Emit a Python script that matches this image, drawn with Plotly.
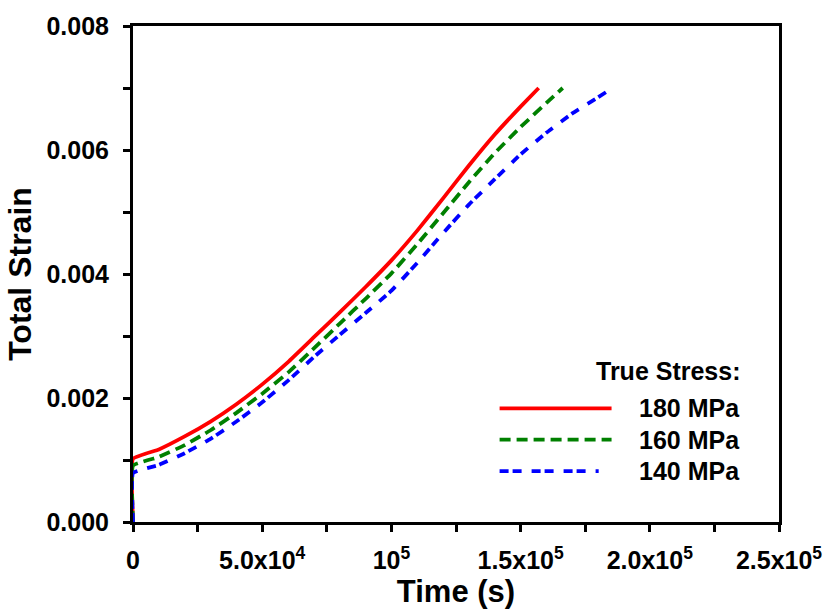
import plotly.graph_objects as go

# Data (time in s, total strain); first point is the loading step at t=0
t_180 = [0, 0, 1e4, 2e4, 3e4, 4e4, 5e4, 6e4, 7e4, 8e4, 9e4, 1.0e5, 1.1e5, 1.2e5, 1.3e5, 1.4e5, 1.5e5, 1.57e5]
e_180 = [0, 0.00102, 0.00117, 0.00138, 0.00162, 0.00190, 0.00222, 0.00258, 0.00298, 0.00338, 0.00379,
         0.00422, 0.00470, 0.00522, 0.00575, 0.00625, 0.00670, 0.00700]

t_160 = [0, 0, 1e4, 2e4, 3e4, 4e4, 5e4, 6e4, 7e4, 8e4, 9e4, 1.0e5, 1.1e5, 1.2e5, 1.3e5, 1.4e5, 1.5e5, 1.6e5, 1.663e5]
e_160 = [0, 0.00091, 0.00105, 0.00124, 0.00148, 0.00176, 0.00207, 0.00241, 0.00280, 0.00320, 0.00360,
         0.00401, 0.00448, 0.00498, 0.00548, 0.00595, 0.00637, 0.00676, 0.00700]

t_140 = [0, 0, 1e4, 2e4, 3e4, 4e4, 5e4, 6e4, 7e4, 8e4, 9e4, 1.0e5, 1.1e5, 1.2e5, 1.3e5, 1.4e5, 1.5e5, 1.6e5,
         1.7e5, 1.8e5, 1.855e5]
e_140 = [0, 0.00079, 0.00092, 0.00111, 0.00134, 0.00162, 0.00193, 0.00228, 0.00266, 0.00302, 0.00337,
         0.00373, 0.00418, 0.00466, 0.00512, 0.00553, 0.00593, 0.00628, 0.00659, 0.00685, 0.00700]

series_names = ["180 MPa", "160 MPa", "140 MPa"]
series_colors = ["#ff0000", "#008000", "#0000ff"]
series_dash = ["solid", "11px,6px", "9px,4px,9px,10px"]

x_tickvals = [0, 5e4, 1e5, 1.5e5, 2e5, 2.5e5]
x_ticktext = ["0", "5.0x10<sup>4</sup>", "10<sup>5</sup>", "1.5x10<sup>5</sup>",
              "2.0x10<sup>5</sup>", "2.5x10<sup>5</sup>"]
x_minor = [2.5e4, 7.5e4, 1.25e5, 1.75e5, 2.25e5]
y_tickvals = [0, 0.002, 0.004, 0.006, 0.008]
y_minor = [0.001, 0.003, 0.005, 0.007]

FONT = "Liberation Sans, Arial, sans-serif"

fig = go.Figure()
for t, e, n, c, d in zip([t_180, t_160, t_140], [e_180, e_160, e_140],
                         series_names, series_colors, series_dash):
    fig.add_trace(go.Scatter(x=t, y=e, mode="lines", name=n,
                             line=dict(color=c, width=3.8, dash=d, shape="spline", smoothing=0.3),
                             showlegend=False))

axis_common = dict(
    showline=True, linecolor="black", linewidth=3, mirror=True,
    ticks="outside", ticklen=7, tickwidth=3, tickcolor="black",
    showgrid=False, zeroline=False, layer="below traces",
    tickfont=dict(family=FONT, size=25, color="black", weight="bold"),
)

fig.update_layout(
    width=834, height=615,
    margin=dict(l=133, r=49, t=16, b=93),
    paper_bgcolor="white", plot_bgcolor="white",
    font=dict(family=FONT, color="black", size=25),
    xaxis=dict(range=[0, 2.5e5], tickmode="array", tickvals=x_tickvals, ticktext=x_ticktext,
               minor=dict(tickmode="array", tickvals=x_minor, ticks="outside", ticklen=7,
                          tickwidth=3, tickcolor="black"),
               title=dict(text="Time (s)", font=dict(family=FONT, size=31, weight="bold"), standoff=5),
               ticklabelstandoff=7,
               **axis_common),
    yaxis=dict(range=[0, 0.008], tickmode="array", tickvals=y_tickvals, tickformat=".3f",
               minor=dict(tickmode="array", tickvals=y_minor, ticks="outside", ticklen=7,
                          tickwidth=3, tickcolor="black"),
               title=dict(text="Total Strain", font=dict(family=FONT, size=32, weight="bold"), standoff=6),
               ticklabelstandoff=9,
               **axis_common),
)

# Manual legend (long line samples as in the reference)
W, H = 834, 615
pl, pr, pt, pb = 133, 49, 16, 93
pw, ph = W - pl - pr, H - pt - pb


def px_to_paper(x, y):
    return (x - pl) / pw, (H - pb - y) / ph


hx, hy = px_to_paper(749, 368)
fig.add_annotation(x=hx, y=hy, xref="paper", yref="paper", text="True Stress:",
                   showarrow=False, xanchor="right", yanchor="middle",
                   font=dict(family=FONT, size=25, weight="bold", color="black"))
legend_y = [406, 438, 470]
for i, (n, c, d) in enumerate(zip(series_names, series_colors, series_dash)):
    y = legend_y[i]
    x0, y0 = px_to_paper(503, y)
    x1, _ = px_to_paper(616 if i < 2 else 603, y)
    fig.add_shape(type="line", xref="paper", yref="paper", x0=x0, x1=x1, y0=y0, y1=y0,
                  line=dict(color=c, width=3.8, dash=d))
    tx, ty = px_to_paper(642, y)
    fig.add_annotation(x=tx, y=ty, xref="paper", yref="paper", text=n, showarrow=False,
                       xanchor="left", yanchor="middle",
                       font=dict(family=FONT, size=25, weight="bold", color="black"))

fig.write_html("out.html")
